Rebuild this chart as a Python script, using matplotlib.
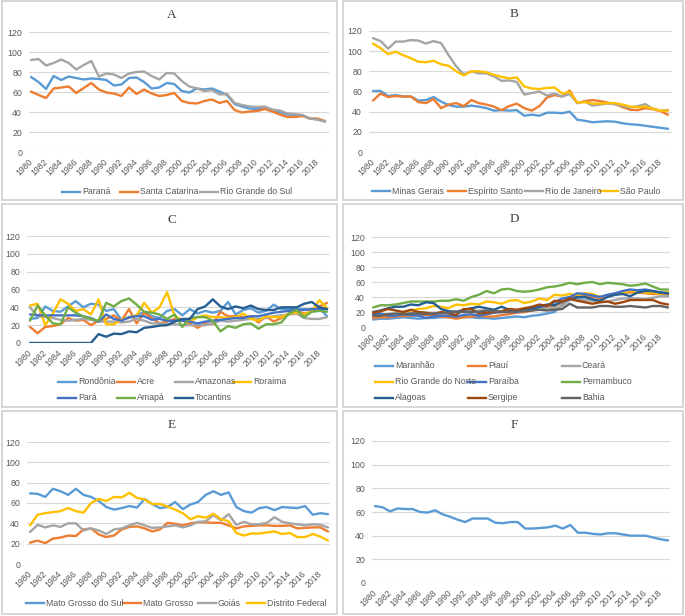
import matplotlib
matplotlib.use("Agg")
import matplotlib.pyplot as plt
from matplotlib.lines import Line2D
from matplotlib.patches import Rectangle
from matplotlib.transforms import ScaledTranslation

years = list(range(1980, 2020))
tick_years = list(range(1980, 2019, 2))
y_ticks = [0, 20, 40, 60, 80, 100, 120]

# ---------------- Panel A ----------------
parana = [75, 70, 63, 76, 72, 75.5, 74, 72.5, 73.5, 73, 72, 66.5, 67.5, 74, 74.5, 70, 63.5, 64.5, 69, 68,
          61, 59.5, 63.5, 62.5, 63.5, 60.5, 57, 48, 45.5, 43.5, 43, 44, 41, 40, 37.5, 37, 36.5, 33.5, 32.5, 30.5]
santa_catarina = [60.5, 57, 54, 63.5, 64.5, 65.5, 59, 64, 69, 62.5, 59.5, 58.5, 56, 64.5, 58, 62.5, 58.5, 56, 57, 59,
                  51, 49, 48.5, 51, 52.5, 49, 51, 42, 39.5, 40.5, 41, 43, 40.5, 37.5, 35, 35, 36, 33.5, 33.5, 31]
rio_grande_sul = [92, 93, 86.5, 89, 92.5, 89, 82.5, 87, 91, 75.5, 78.5, 77.5, 74, 78.5, 80, 80.5, 76, 72.5, 79, 78.5,
                  71, 65.5, 63.5, 61, 62, 57.5, 58, 49, 47, 45.5, 45, 45.5, 42.5, 41.5, 38.5, 38, 37, 33.5, 32.5, 30.5]

# ---------------- Panel B ----------------
minas_gerais = [60.5, 60.5, 55.5, 56.5, 55, 55, 51, 51.5, 54.5, 50, 46.5, 45, 45, 46, 45, 43.5, 41, 41.5, 41, 41.5,
                36, 37, 36, 39, 39, 38.5, 40, 32, 31, 29.5, 30, 30.5, 30, 28.5, 27.5, 27, 26, 25, 24, 23]
espirito_santo = [51, 58, 54.5, 55.5, 55, 55, 49.5, 48.5, 52.5, 43.5, 47, 48.5, 45.5, 51.5, 48.5, 47, 45, 41.5, 45.5, 48,
                  43.5, 41, 45.5, 54, 56.5, 55, 61, 48.5, 50.5, 51.5, 50.5, 49, 47.5, 44.5, 42, 41.5, 43.5, 42.5, 40.5, 37]
rio_de_janeiro = [113, 110, 102.5, 109.5, 109.5, 111, 110.5, 107.5, 110, 108, 96, 85, 77, 80, 78, 78, 75, 70.5, 71, 69.5,
                  57, 58.5, 60, 56, 58, 55, 57.5, 48.5, 50, 46, 47, 48, 47.5, 45.5, 44, 45.5, 47.5, 43, 41, 41.5]
sao_paulo = [107.5, 103, 97, 99.5, 96, 93, 89.5, 89, 90.5, 87, 85.5, 80, 76, 80, 80, 79, 76.5, 74.5, 73, 74,
             65, 63, 62.5, 63.5, 64, 58, 59.5, 49, 49.5, 48, 48, 48.5, 48.5, 47, 45, 44.5, 45, 43, 41, 41]

# ---------------- Panel C ----------------
rondonia = [27, 28, 41, 36, 35, 41, 47, 40, 44, 43, 36, 38, 26, 28, 31, 35, 30, 28, 36, 38,
            31, 38, 33, 36, 34, 36, 46, 32, 37, 39, 34, 36, 43, 38, 38, 38, 38, 37, 39, 30]
acre = [18, 11, 18, 19, 21, 28, 25, 26, 20, 25, 27, 31, 25, 38, 22, 34, 28, 22, 24, 27,
        25, 22, 17, 22, 21, 35, 30, 30, 29, 30, 23, 30, 24, 28, 33, 36, 33, 35, 41, 45]
amazonas = [40, 30, 29, 28, 26, 25, 26, 27, 26, 24, 24, 24, 23, 24, 27, 25, 22, 22, 21, 21,
            20, 20, 20, 20, 22, 25, 24, 25, 26, 27, 27, 28, 30, 31, 32, 33, 28, 27, 27, 29]
roraima = [42, 44, 20, 33, 49, 44, 36, 38, 32, 49, 21, 21, 26, 29, 31, 45, 34, 40, 57, 30,
           26, 24, 29, 31, 29, 29, 28, 29, 33, 27, 25, 30, 29, 29, 33, 34, 32, 36, 48, 39]
para = [32, 31, 31, 31, 31, 31, 31, 30, 28, 24, 32, 27, 25, 29, 30, 30, 26, 27, 25, 25,
        25, 24, 22, 24, 25, 26, 27, 28, 28, 30, 30, 32, 34, 35, 36, 37, 37, 38, 38, 38]
amapa = [25, 42, 31, 22, 21, 40, 34, 30, 27, 25, 45, 41, 47, 50, 43, 35, 34, 32, 27, 32,
         18, 28, 29, 29, 25, 13, 19, 17, 21, 22, 16, 21, 21, 23, 33, 37, 29, 35, 36, 35]
tocantins = [0, 0, 0, 0, 0, 0, 0, 0, 0, 10, 7, 10.5, 10, 13, 12, 17, 18, 19.5, 20, 24,
             27, 27, 38, 41, 49, 41, 38, 41, 39, 42, 38, 37, 37, 40, 40, 40, 44, 46, 40, 38]

# ---------------- Panel D ----------------
maranhao = [10, 11, 11, 12, 13, 12, 11, 12, 12, 13, 13, 13, 13, 13, 12, 12, 11, 12, 13, 14,
            13, 15, 16, 18, 20, 30, 37, 38, 40, 40, 40, 41, 43, 45, 47, 47, 47, 45, 45, 43]
piaui = [12, 13, 13, 14, 15, 15, 16, 16, 15, 14, 13, 11, 13, 14, 15, 14, 14, 16, 17, 19,
         20, 22, 24, 25, 28, 33, 38, 42, 42, 41, 38, 42, 44, 46, 46, 46, 45, 44, 44, 43]
ceara = [18, 17, 17, 17, 18, 18, 20, 19, 19, 19, 20, 21, 21, 21, 22, 22, 21, 20, 21, 21,
         22, 23, 24, 25, 25, 28, 36, 36, 36, 35, 33, 34, 36, 38, 38, 38, 37, 39, 41, 41]
rio_grande_norte = [16, 17, 16, 15, 20, 22, 24, 25, 28, 27, 25, 30, 29, 31, 30, 34, 33, 31, 35, 36,
                    32, 34, 38, 36, 43, 42, 44, 42, 45, 44, 40, 42, 43, 46, 48, 47, 46, 46, 44, 47]
paraiba = [17, 18, 15, 15, 17, 16, 15, 12, 14, 15, 15, 14, 16, 17, 15, 17, 19, 20, 20, 20,
           22, 26, 27, 28, 33, 38, 40, 45, 44, 42, 40, 43, 45, 48, 50, 49, 50, 48, 46, 45]
pernambuco = [26, 29, 29, 30, 32, 34, 34, 34, 34, 35, 35, 37, 35, 40, 43, 48, 45, 50, 51, 48,
              47, 48, 50, 53, 54, 56, 59, 57, 59, 60, 57, 59, 58, 57, 55, 56, 58, 54, 50, 50]
alagoas = [20, 22, 25, 27, 27, 30, 29, 33, 32, 24, 21, 20, 23, 25, 27, 25, 23, 27, 23, 22,
           23, 24, 27, 30, 29, 34, 37, 40, 40, 37, 35, 40, 43, 44, 41, 46, 48, 48, 46, 45]
sergipe = [19, 21, 24, 22, 20, 23, 20, 19, 17, 20, 18, 16, 24, 24, 18, 19, 20, 21, 24, 23,
           25, 27, 30, 28, 35, 34, 38, 35, 33, 31, 33, 34, 31, 33, 36, 36, 36, 36, 32, 30]
bahia = [15, 15, 17, 18, 17, 18, 18, 17, 18, 18, 19, 20, 20, 20, 20, 22, 21, 20, 20, 21,
         21, 22, 23, 22, 23, 24, 31, 26, 26, 26, 28, 28, 27, 27, 28, 27, 26, 28, 28, 26]

# ---------------- Panel E ----------------
mato_grosso_sul = [69.5, 69, 66, 74, 71.5, 68, 74, 68, 66, 62, 56, 53.5, 55, 57, 55.5, 64, 59, 55, 56, 61,
                   54, 58.5, 61, 68, 71.5, 68, 70.5, 56, 52, 50.5, 55, 56, 53, 56, 55.5, 55, 57, 48.5, 50, 49]
mato_grosso = [21, 23, 20.5, 25, 26, 28, 27.5, 34, 35, 29, 26.5, 28, 34, 36.5, 37, 35, 32, 34, 40.5, 39.5,
               38, 40, 41, 41, 40.5, 40.5, 38, 35, 37, 37.5, 38, 38, 37.5, 37.5, 38, 35, 35.5, 36, 36, 32]
goias = [31.5, 38.5, 36, 38, 36.5, 40, 40, 33, 35, 33, 29.5, 34, 35, 38, 40.5, 38, 35.5, 36, 37, 38,
         36, 38, 41.5, 42, 48, 43, 49, 38.5, 41.5, 39, 39, 40.5, 46, 41.5, 40, 39, 38, 39, 38.5, 36]
distrito_federal = [38, 48.5, 50, 51, 52, 55, 52, 50.5, 60, 64, 62, 66, 65.5, 70, 65, 63.5, 59, 59, 56.5, 53.5,
                    50, 44, 47, 45.5, 49.5, 44, 42, 30.5, 28, 30, 30, 31, 32, 29.5, 30.5, 26.5, 26.5, 29.5, 27, 23]

# ---------------- Panel F ----------------
brasil = [65, 64, 60.5, 63, 62.5, 62.5, 60, 59.5, 61.5, 58, 56, 53.5, 51.5, 54.5, 54.5, 54.5, 51, 50.5, 51.5, 51.5,
          46, 46, 46.5, 47, 48.5, 46, 49, 42.5, 42.5, 41.5, 41, 42, 42, 41, 40, 40, 40, 38.5, 37, 36]

# ---------------- styling ----------------
C_BLUE, C_ORANGE, C_GRAY, C_YELLOW = "#5B9BD5", "#ED7D31", "#A5A5A5", "#FFC000"
C_BLUE2, C_GREEN, C_DBLUE, C_BROWN, C_DGRAY = "#4472C4", "#70AD47", "#255E91", "#9E480E", "#636363"

W, H = 685, 616
fig = plt.figure(figsize=(W / 100, H / 100), dpi=100)
fig.patch.set_facecolor("white")

SANS = ["Liberation Sans", "DejaVu Sans"]
SERIF = ["Liberation Serif", "DejaVu Serif"]
TXT = "#595959"
LW = 1.7

# overlay in pixel coordinates for borders, titles, legends
ov = fig.add_axes([0, 0, 1, 1], zorder=-1)
ov.set_xlim(0, W)
ov.set_ylim(H, 0)
ov.axis("off")

borders = [(2, 1, 337, 200), (343, 1, 683, 200),
           (2, 204, 337, 407), (343, 204, 683, 407),
           (2, 411, 337, 614), (343, 411, 683, 614)]
for (x0, y0, x1, y1) in borders:
    ov.add_patch(Rectangle((x0, y0), x1 - x0, y1 - y0, fill=False, ec="#D0D0D0", lw=1.2))

panels = [
    dict(title="A", tpos=(172, 15), gx=(29, 329), gy=(32, 152), dx=(31, 325),
         series=[("Paraná", parana, C_BLUE), ("Santa Catarina", santa_catarina, C_ORANGE),
                 ("Rio Grande do Sul", rio_grande_sul, C_GRAY)],
         leg=[(62, 192), (120, 192), (200, 192)]),
    dict(title="B", tpos=(514, 14), gx=(369, 672), gy=(31, 152), dx=(373, 668),
         series=[("Minas Gerais", minas_gerais, C_BLUE), ("Espírito Santo", espirito_santo, C_ORANGE),
                 ("Rio de Janeiro", rio_de_janeiro, C_GRAY), ("São Paulo", sao_paulo, C_YELLOW)],
         leg=[(372, 191), (448, 191), (525, 191), (600, 191)]),
    dict(title="C", tpos=(172, 220), gx=(27, 330), gy=(236, 343), dx=(30, 327),
         series=[("Rondônia", rondonia, C_BLUE), ("Acre", acre, C_ORANGE), ("Amazonas", amazonas, C_GRAY),
                 ("Roraima", roraima, C_YELLOW), ("Pará", para, C_BLUE2), ("Amapá", amapa, C_GREEN),
                 ("Tocantins", tocantins, C_DBLUE)],
         leg=[(58, 382), (117, 382), (175, 382), (233, 382), (58, 398), (117, 398), (175, 398)]),
    dict(title="D", tpos=(514, 219), gx=(372, 670), gy=(237, 327), dx=(373, 668),
         series=[("Maranhão", maranhao, C_BLUE), ("Piauí", piaui, C_ORANGE), ("Ceará", ceara, C_GRAY),
                 ("Rio Grande do Norte", rio_grande_norte, C_YELLOW), ("Paraíba", paraiba, C_BLUE2),
                 ("Pernambuco", pernambuco, C_GREEN), ("Alagoas", alagoas, C_DBLUE),
                 ("Sergipe", sergipe, C_BROWN), ("Bahia", bahia, C_DGRAY)],
         leg=[(375, 366), (468, 366), (562, 366), (375, 382), (468, 382), (562, 382),
              (375, 398), (468, 398), (562, 398)]),
    dict(title="E", tpos=(172, 425), gx=(27, 330), gy=(442, 564), dx=(30, 328),
         series=[("Mato Grosso do Sul", mato_grosso_sul, C_BLUE), ("Mato Grosso", mato_grosso, C_ORANGE),
                 ("Goiás", goias, C_GRAY), ("Distrito Federal", distrito_federal, C_YELLOW)],
         leg=[(26, 603), (123, 603), (198, 603), (247, 603)]),
    dict(title="F", tpos=(514, 425), gx=(372, 670), gy=(441, 583), dx=(375, 668),
         series=[("Brasil", brasil, C_BLUE)], leg=None),
]

shift = ScaledTranslation(-0.07, 0.005, fig.dpi_scale_trans)

for p in panels:
    gx0, gx1 = p["gx"]
    gy120, gy0 = p["gy"]
    fx, lx = p["dx"]
    ax = fig.add_axes([gx0 / W, 1 - gy0 / H, (gx1 - gx0) / W, (gy0 - gy120) / H])
    ax.set_facecolor("none")
    ppy = (lx - fx) / 39.0
    ax.set_xlim(1980 - (fx - gx0) / ppy, 2019 + (gx1 - lx) / ppy)
    ax.set_ylim(0, 120)
    for name, vals, col in p["series"]:
        ax.plot(years, vals, color=col, lw=LW, solid_joinstyle="round", solid_capstyle="round", zorder=3)
    ax.set_yticks(y_ticks)
    ax.set_yticklabels([str(v) for v in y_ticks], fontsize=6.3, color=TXT, family=SANS)
    ax.set_xticks(tick_years)
    ax.set_xticklabels([str(v) for v in tick_years], fontsize=6.3, color=TXT, family=SANS,
                       rotation=45, ha="right", va="center", rotation_mode="anchor")
    for lab in ax.get_xticklabels():
        lab.set_transform(lab.get_transform() + shift)
    ax.tick_params(axis="both", length=0)
    ax.tick_params(axis="y", pad=5)
    ax.tick_params(axis="x", pad=6)
    ax.grid(axis="y", color="#D9D9D9", lw=0.8)
    ax.set_axisbelow(True)
    for s in ax.spines.values():
        s.set_visible(False)

    ov.text(p["tpos"][0], p["tpos"][1], p["title"], ha="center", va="center",
            fontsize=9.5, color="#404040", family=SERIF)
    if p["leg"]:
        for (name, vals, col), (lxp, lyp) in zip(p["series"], p["leg"]):
            ov.add_line(Line2D([lxp, lxp + 18], [lyp, lyp], color=col, lw=LW))
            ov.text(lxp + 20, lyp, name, ha="left", va="center", fontsize=6.3, color=TXT, family=SANS)

fig.savefig("out.png", dpi=100, facecolor="white")
